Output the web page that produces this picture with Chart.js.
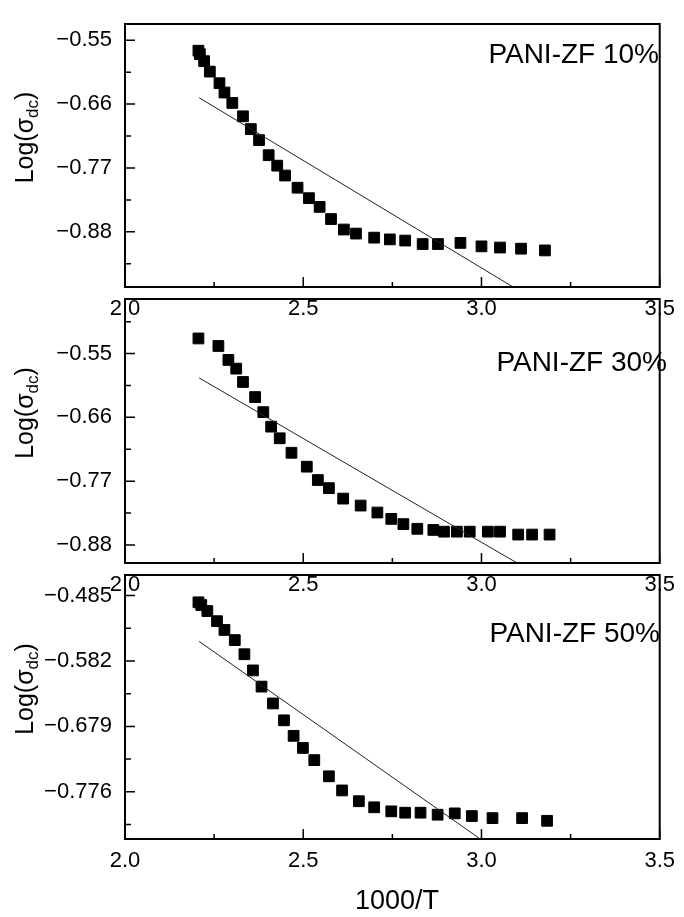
<!DOCTYPE html>
<html>
<head>
<meta charset="utf-8">
<script src="https://cdn.jsdelivr.net/npm/chart.js@4.4.1/dist/chart.umd.min.js"></script>
<style>
  html, body { margin: 0; padding: 0; background: #fff; }
  #wrap { position: relative; width: 684px; height: 917px; overflow: hidden; }
  #wrap canvas { position: absolute; left: 0; }
</style>
</head>
<body>
<div id="wrap">
  <canvas id="chart-10" width="684" height="340" style="top:0px"></canvas>
  <canvas id="chart-30" width="684" height="340" style="top:275px"></canvas>
  <canvas id="chart-50" width="684" height="366" style="top:551px"></canvas>
</div>
<script>
// 共用 X 軸 (1000/T)
const xMajor = [2.0, 2.5, 3.0, 3.5];
const xMinor = [2.25, 2.75, 3.25];

// PANI-ZF 10%
const x10 = [2.206, 2.210, 2.222, 2.238, 2.265, 2.279, 2.301, 2.331, 2.353, 2.376, 2.403, 2.427, 2.449, 2.484, 2.516,
             2.546, 2.578, 2.614, 2.648, 2.699, 2.743, 2.786, 2.835, 2.878, 2.941, 3.000, 3.052, 3.111, 3.178];
const y10 = [-0.568, -0.574, -0.586, -0.604, -0.624, -0.640, -0.658, -0.681, -0.703, -0.722, -0.748, -0.766, -0.783, -0.804, -0.822,
             -0.837, -0.858, -0.876, -0.883, -0.890, -0.893, -0.895, -0.901, -0.901, -0.899, -0.905, -0.907, -0.909, -0.912];
const fitX10 = [2.208, 3.086];
const fitY10 = [-0.649, -0.974];
const yMajor10 = [-0.55, -0.66, -0.77, -0.88];
const yMinor10 = [-0.605, -0.715, -0.825, -0.935];

// PANI-ZF 30%
const x30 = [2.206, 2.262, 2.290, 2.312, 2.331, 2.365, 2.388, 2.410, 2.434, 2.467, 2.510, 2.541, 2.572, 2.612,
             2.661, 2.708, 2.747, 2.781, 2.820, 2.865, 2.895, 2.931, 2.967, 3.018, 3.052, 3.103, 3.142, 3.191];
const y30 = [-0.524, -0.537, -0.561, -0.576, -0.599, -0.625, -0.651, -0.676, -0.696, -0.721, -0.745, -0.768, -0.782, -0.800,
             -0.812, -0.824, -0.835, -0.844, -0.852, -0.854, -0.857, -0.857, -0.857, -0.857, -0.857, -0.862, -0.862, -0.862];
const fitX30 = [2.208, 3.097];
const fitY30 = [-0.592, -0.910];
const yMajor30 = [-0.55, -0.66, -0.77, -0.88];
const yMinor30 = [-0.495, -0.605, -0.715, -0.825];

// PANI-ZF 50%
const x50 = [2.206, 2.214, 2.231, 2.258, 2.279, 2.308, 2.335, 2.359, 2.383, 2.415, 2.446, 2.473, 2.499, 2.531,
             2.572, 2.609, 2.656, 2.699, 2.747, 2.786, 2.829, 2.877, 2.925, 2.973, 3.031, 3.114, 3.184];
const y50 = [-0.495, -0.499, -0.508, -0.523, -0.536, -0.551, -0.572, -0.596, -0.620, -0.645, -0.670, -0.693, -0.711, -0.729,
             -0.753, -0.774, -0.790, -0.799, -0.805, -0.807, -0.807, -0.810, -0.808, -0.812, -0.815, -0.815, -0.819];
const fitX50 = [2.208, 2.994];
const fitY50 = [-0.553, -0.845];
const yMajor50 = [-0.485, -0.582, -0.679, -0.776];
const yMinor50 = [-0.5335, -0.6305, -0.7275, -0.8245];

const FONT = '"Liberation Sans", Arial, sans-serif';

// 邊框、內向刻度、標籤與座標軸標題
const panelDeco = {
    id: "panelDeco",
    afterDraw(chart, args, opts) {
        const { ctx, chartArea: a, scales: { x, y } } = chart;
        ctx.save();
        ctx.strokeStyle = "#000";
        ctx.fillStyle = "#000";

        // 刻度線 (朝內)
        ctx.lineWidth = 1.5;
        ctx.beginPath();
        xMajor.forEach(v => {
            const px = x.getPixelForValue(v);
            ctx.moveTo(px, a.bottom); ctx.lineTo(px, a.bottom - 10);
        });
        xMinor.forEach(v => {
            const px = x.getPixelForValue(v);
            ctx.moveTo(px, a.bottom); ctx.lineTo(px, a.bottom - 5);
        });
        opts.yMajor.forEach(v => {
            const py = y.getPixelForValue(v);
            ctx.moveTo(a.left, py); ctx.lineTo(a.left + 10, py);
        });
        opts.yMinor.forEach(v => {
            if (v > y.max || v < y.min) return;
            const py = y.getPixelForValue(v);
            ctx.moveTo(a.left, py); ctx.lineTo(a.left + 6, py);
        });
        ctx.stroke();

        // 外框
        ctx.lineWidth = 2;
        ctx.strokeRect(a.left, a.top, a.right - a.left, a.bottom - a.top);

        // 樣品標籤
        ctx.font = "28px " + FONT;
        ctx.textAlign = "right";
        ctx.textBaseline = "middle";
        ctx.fillText(opts.label, opts.labelX, a.top + opts.labelDy);

        // Y 軸標題 Log(σdc)
        ctx.save();
        ctx.translate(33, (a.top + a.bottom) / 2 - 18);
        ctx.rotate(-Math.PI / 2);
        ctx.textAlign = "left";
        ctx.textBaseline = "alphabetic";
        const big = "25px " + FONT, small = "17px " + FONT;
        ctx.font = big; const w1 = ctx.measureText("Log(σ").width;
        ctx.font = small; const w2 = ctx.measureText("dc").width;
        ctx.font = big; const w3 = ctx.measureText(")").width;
        let sx = -(w1 + w2 + w3) / 2;
        ctx.font = big; ctx.fillText("Log(σ", sx, 0); sx += w1;
        ctx.font = small; ctx.fillText("dc", sx, 5); sx += w2;
        ctx.font = big; ctx.fillText(")", sx, 0);
        ctx.restore();

        // X 軸標題 (僅最下方面板)
        if (opts.xTitle) {
            ctx.font = "27px " + FONT;
            ctx.textAlign = "center";
            ctx.textBaseline = "middle";
            ctx.fillText(opts.xTitle, 397, opts.xTitleY);
        }
        ctx.restore();
    }
};

function buildPanel(id, xs, ys, fitX, fitY, cfg) {
    const points = xs.map((v, i) => ({ x: v, y: ys[i] }));
    const fitLine = fitX.map((v, i) => ({ x: v, y: fitY[i] }));

    return new Chart(document.getElementById(id), {
        type: "scatter",
        data: {
            datasets: [
                {
                    data: fitLine,
                    showLine: true,
                    borderColor: "#222",
                    borderWidth: 1,
                    pointRadius: 0
                },
                {
                    data: points,
                    pointStyle: "rect",
                    pointRadius: 7.6,
                    pointBackgroundColor: "#000",
                    pointBorderColor: "#000",
                    pointBorderWidth: 1
                }
            ]
        },
        options: {
            responsive: false,
            animation: false,
            events: [],
            layout: { padding: { top: 12, right: 16, left: 0, bottom: 0 } },
            plugins: {
                legend: { display: false },
                tooltip: { enabled: false },
                panelDeco: cfg.deco
            },
            scales: {
                x: {
                    type: "linear",
                    min: 2.0,
                    max: 3.5,
                    afterBuildTicks: s => { s.ticks = xMajor.map(v => ({ value: v })); },
                    afterFit: s => { s.height = cfg.xHeight; },
                    grid: { display: false, drawTicks: false },
                    border: { display: false },
                    ticks: {
                        autoSkip: false,
                        maxRotation: 0,
                        padding: 9,
                        color: "#000",
                        font: { family: FONT, size: 22 },
                        callback: v => Number(v).toFixed(1)
                    }
                },
                y: {
                    type: "linear",
                    min: cfg.yMin,
                    max: cfg.yMax,
                    afterBuildTicks: s => { s.ticks = cfg.deco.yMajor.map(v => ({ value: v })); },
                    afterFit: s => { s.width = 125; },
                    grid: { display: false, drawTicks: false },
                    border: { display: false },
                    ticks: {
                        autoSkip: false,
                        padding: 13,
                        color: "#000",
                        font: { family: FONT, size: 22, lineHeight: 1 },
                        callback: v => "\u2212" + Math.abs(v).toFixed(cfg.decimals)
                    }
                }
            }
        },
        plugins: [panelDeco]
    });
}

document.addEventListener("DOMContentLoaded", () => {
    buildPanel("chart-10", x10, y10, fitX10, fitY10, {
        yMin: -0.975, yMax: -0.522, decimals: 2, xHeight: 53,
        deco: { yMajor: yMajor10, yMinor: yMinor10, label: "PANI-ZF 10%", labelX: 659, labelDy: 31 }
    });
    buildPanel("chart-30", x30, y30, fitX30, fitY30, {
        yMin: -0.911, yMax: -0.456, decimals: 2, xHeight: 52,
        deco: { yMajor: yMajor30, yMinor: yMinor30, label: "PANI-ZF 30%", labelX: 667, labelDy: 64 }
    });
    buildPanel("chart-50", x50, y50, fitX50, fitY50, {
        yMin: -0.846, yMax: -0.4545, decimals: 3, xHeight: 78,
        deco: { yMajor: yMajor50, yMinor: yMinor50, label: "PANI-ZF 50%", labelX: 660, labelDy: 59,
                xTitle: "1000/T", xTitleY: 351 }
    });
});
</script>
</body>
</html>
